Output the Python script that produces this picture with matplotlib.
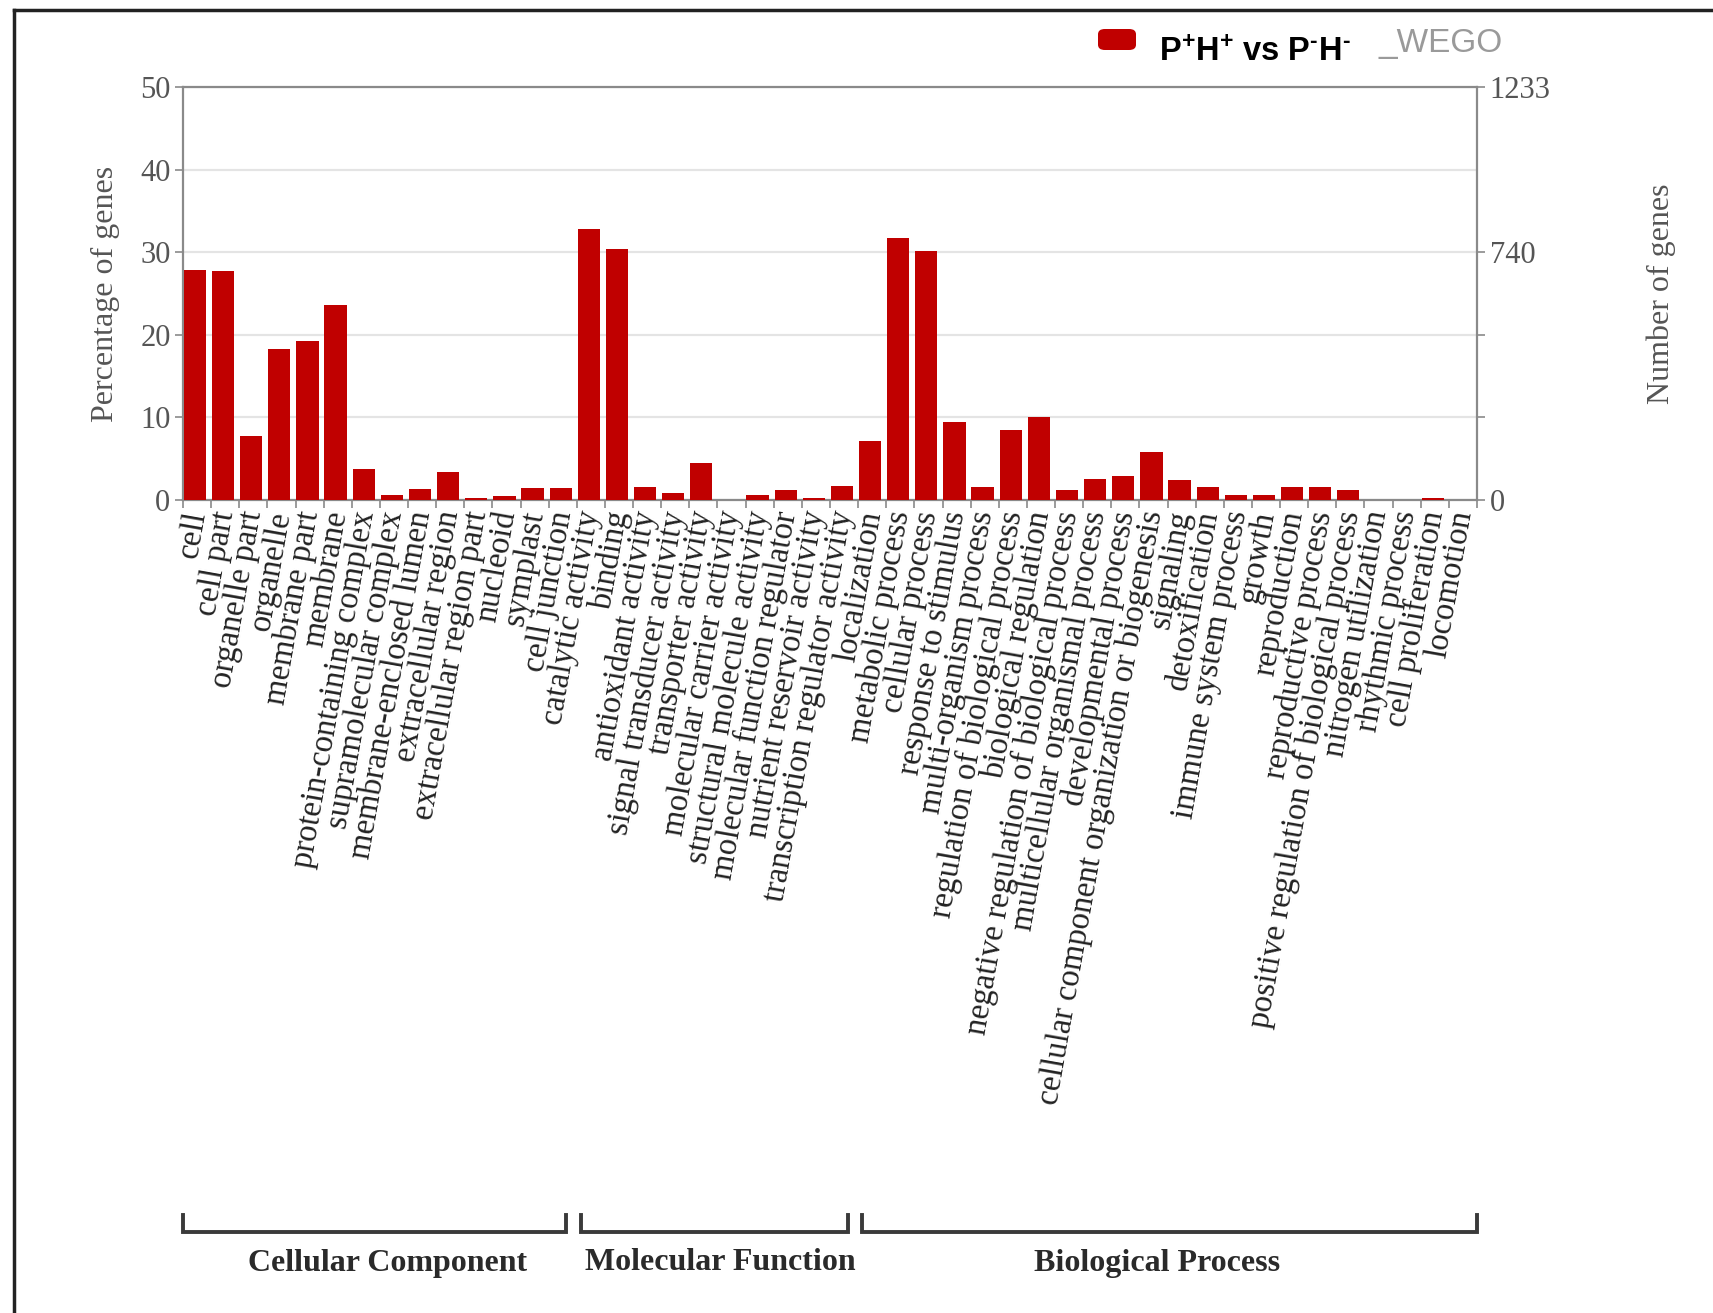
import matplotlib
matplotlib.use("Agg")
import matplotlib.pyplot as plt
import numpy as np
from matplotlib.patches import FancyBboxPatch
from matplotlib.lines import Line2D
import matplotlib.transforms as mtransforms

plt.rcParams['mathtext.fontset'] = 'custom'
plt.rcParams['mathtext.rm'] = 'Liberation Sans:bold'
plt.rcParams['mathtext.it'] = 'Liberation Sans:bold'
plt.rcParams['mathtext.bf'] = 'Liberation Sans:bold'

# ---------------- data ----------------
cc_terms = ["cell", "cell part", "organelle part", "organelle", "membrane part", "membrane",
            "protein-containing complex", "supramolecular complex", "membrane-enclosed lumen",
            "extracellular region", "extracellular region part", "nucleoid", "symplast",
            "cell junction"]
cc_values = [27.9, 27.7, 7.7, 18.3, 19.2, 23.6, 3.8, 0.65, 1.3, 3.4, 0.3, 0.5, 1.5, 1.5]

mf_terms = ["catalytic activity", "binding", "antioxidant activity", "signal transducer activity",
            "transporter activity", "molecular carrier activity", "structural molecule activity",
            "molecular function regulator", "nutrient reservoir activity",
            "transcription regulator activity"]
mf_values = [32.8, 30.4, 1.6, 0.9, 4.5, 0.0, 0.55, 1.25, 0.25, 1.75]

bp_terms = ["localization", "metabolic process", "cellular process", "response to stimulus",
            "multi-organism process", "regulation of biological process", "biological regulation",
            "negative regulation of biological process", "multicellular organismal process",
            "developmental process", "cellular component organization or biogenesis", "signaling",
            "detoxification", "immune system process", "growth", "reproduction",
            "reproductive process", "positive regulation of biological process",
            "nitrogen utilization", "rhythmic process", "cell proliferation", "locomotion"]
bp_values = [7.2, 31.7, 30.2, 9.5, 1.6, 8.5, 10.0, 1.2, 2.6, 2.9, 5.8, 2.4, 1.6, 0.55, 0.55,
             1.6, 1.6, 1.2, 0.0, 0.0, 0.2, 0.0]

group_names = ["Cellular Component", "Molecular Function", "Biological Process"]
left_ticks = [0, 10, 20, 30, 40, 50]
right_ticks = [0, 740, 1233]
right_max = 1233
series_label = r"P$^{+}$H$^{+}$ vs P$^{\text{-}}$H$^{\text{-}}$"

terms = cc_terms + mf_terms + bp_terms
values = cc_values + mf_values + bp_values
group_sizes = [len(cc_terms), len(mf_terms), len(bp_terms)]

# ---------------- figure ----------------
W, H = 1713, 1313
fig = plt.figure(figsize=(W / 100, H / 100), dpi=100)
ax = fig.add_axes([183 / W, 1 - 500 / H, (1477 - 183) / W, (500 - 87) / H])

n = len(terms)
x = np.arange(n)
bar_color = '#c00000'
ax.bar(x + 0.03, values, width=0.79, align='edge', color=bar_color, edgecolor='none', zorder=3)

ax.set_xlim(0, n)
ax.set_ylim(0, 50)

gray = '#8a8a8a'
txt_gray = '#555555'
serif = ['Liberation Serif', 'DejaVu Serif']

# x axis
ax.set_xticks(x + 0.5)
ax.set_xticklabels(terms, rotation=80, ha='right', va='center', rotation_mode='anchor',
                   fontfamily=serif, fontsize=23.5, color='#222222')
ax.tick_params(axis='x', which='major', length=0, pad=8)
ax.set_xticks(np.arange(n + 1), minor=True)
ax.tick_params(axis='x', which='minor', length=6, width=1.2, color=gray, direction='out')

# left y axis
ax.set_yticks(left_ticks)
ax.set_yticklabels([str(t) for t in left_ticks], fontfamily=serif, fontsize=22, color=txt_gray)
ax.tick_params(axis='y', length=6, width=1.2, color=gray, direction='out', pad=3)
ax.yaxis.grid(True, color='#e4e4e4', linewidth=1.6, zorder=0)
ax.set_axisbelow(True)
for s in ax.spines.values():
    s.set_color(gray)
    s.set_linewidth(1.6)
ax.set_ylabel('Percentage of genes', fontfamily=serif, fontsize=23, color=txt_gray)
ax.yaxis.set_label_coords((120 - 183) / 1294, 0.5)

# right y axis
ax2 = ax.twinx()
ax2.set_ylim(0, right_max)
ax2.set_yticks(right_ticks)
ax2.set_yticklabels([str(t) for t in right_ticks], fontfamily=serif, fontsize=22, color=txt_gray)
ax2.set_yticks([right_max * f for f in (0.2, 0.4)], minor=True)
ax2.tick_params(axis='y', which='both', length=6, width=1.2, color=gray, direction='out', pad=3)
for s in ax2.spines.values():
    s.set_visible(False)
ax2.set_ylabel('Number of genes', fontfamily=serif, fontsize=23, color=txt_gray, rotation=90)
ax2.yaxis.set_label_coords((1646 - 183) / 1294, 0.5)

# group brackets below the labels
trans = mtransforms.blended_transform_factory(ax.transData, fig.transFigure)
y_line = 1 - 1232 / H
y_top = 1 - 1215 / H
y_text = 1 - 1263 / H
label_shift = [0.45, 0.2, -0.45]
start = 0
for gi, (name, size) in enumerate(zip(group_names, group_sizes)):
    end = start + size
    x0 = start + (0.15 if gi > 0 else 0.0)
    x1 = end - (0.37 if gi < len(group_sizes) - 1 else 0.0)
    ax.plot([x0, x0, x1, x1], [y_top, y_line, y_line, y_top], transform=trans,
            color='#3a3a3a', linewidth=2.8, clip_on=False, solid_joinstyle='miter')
    ax.text((x0 + x1) / 2 + label_shift[gi], y_text, name, transform=trans, ha='center',
            va='center', fontfamily=serif, fontsize=23, fontweight='bold', color='#2a2a2a')
    start = end

# legend
fig.add_artist(FancyBboxPatch((1098 / W, 1 - 50 / H), 38 / W, 21 / H,
                              boxstyle='round,pad=0.0,rounding_size=0.004',
                              transform=fig.transFigure, facecolor=bar_color, edgecolor='none'))
fig.text(1159 / W, 1 - 61 / H, series_label, ha='left', va='baseline',
         fontfamily='Liberation Sans', fontweight='bold', fontsize=23.5, color='black')
fig.text(1378 / W, 1 - 52 / H, '_WEGO', ha='left', va='baseline',
         fontfamily='Liberation Sans', fontsize=24, color='#9a9a9a')

# frame lines (top and left)
fig.add_artist(Line2D([14 / W, 1.0], [1 - 10 / H, 1 - 10 / H], transform=fig.transFigure,
                      color='#222222', linewidth=2.5))
fig.add_artist(Line2D([14 / W, 14 / W], [0.0, 1 - 10 / H], transform=fig.transFigure,
                      color='#222222', linewidth=2.5))

fig.savefig('out.png', dpi=100, facecolor='white')
